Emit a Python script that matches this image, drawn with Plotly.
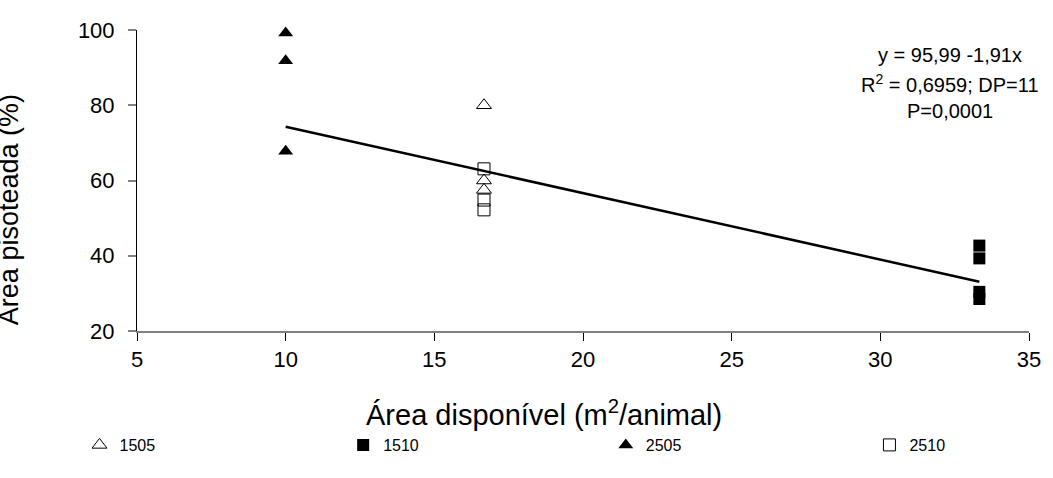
import plotly.graph_objects as go

# Data
x_1505 = [16.67, 16.67, 16.67]
y_1505 = [80.0, 60.0, 57.5]

x_1510 = [33.33, 33.33, 33.33, 33.33]
y_1510 = [42.7, 39.3, 30.4, 28.5]

x_2505 = [10.0, 10.0, 10.0]
y_2505 = [99.2, 91.8, 67.8]

x_2510 = [16.67, 16.67, 16.67]
y_2510 = [63.1, 54.8, 52.2]

trend_x = [10.0, 33.33]
trend_y = [74.3, 33.1]

eq_lines = ["y = 95,99 -1,91x", "R<sup>2</sup> = 0,6959; DP=11", "P=0,0001"]

FONT = "Liberation Sans, Arial, sans-serif"

PL, PR, PT, PB = 137, 16, 30, 147
PW = 1053 - PL - PR
PH = 478 - PT - PB


def px_x(p):
    return (p - PL) / PW


def px_y(p):
    return (478 - PB - p) / PH


fig = go.Figure()

fig.add_trace(go.Scatter(x=trend_x, y=trend_y, mode="lines",
                         line=dict(color="black", width=2.5),
                         showlegend=False, hoverinfo="skip"))

series = [
    ("1505", x_1505, y_1505, dict(symbol="triangle-up-open", size=13, color="black",
                                  line=dict(width=1, color="black")), "legend", 101),
    ("1510", x_1510, y_1510, dict(symbol="square", size=12, color="black"), "legend2", 367),
    ("2505", x_2505, y_2505, dict(symbol="triangle-up", size=13, color="black"), "legend3", 632),
    ("2510", x_2510, y_2510, dict(symbol="square-open", size=12, color="black",
                                  line=dict(width=1, color="black")), "legend4", 898),
]

legend_layout = {}
for name, xs, ys, mk, lg, mx in series:
    fig.add_trace(go.Scatter(x=xs, y=ys, mode="markers", name=name, marker=mk,
                             cliponaxis=False, legend=lg))
    legend_layout[lg] = dict(x=px_x(mx - 22), y=px_y(445), xanchor="left", yanchor="middle",
                             orientation="h", itemwidth=30,
                             font=dict(family=FONT, size=16, color="black"),
                             bgcolor="rgba(0,0,0,0)")

# equation text
eq_y_px = [55, 83, 111]
for txt, py in zip(eq_lines, eq_y_px):
    fig.add_annotation(xref="paper", yref="paper", x=px_x(957), y=px_y(py),
                       xanchor="center", yanchor="middle", showarrow=False,
                       text=txt, font=dict(family=FONT, size=20, color="black"))

# axis titles
fig.add_annotation(xref="paper", yref="paper", x=px_x(548), y=px_y(413),
                   xanchor="center", yanchor="middle", showarrow=False,
                   text="Área disponível (m<sup>2</sup>/animal)",
                   font=dict(family=FONT, size=29, color="black"))
fig.add_annotation(xref="paper", yref="paper", x=px_x(8), y=px_y(210),
                   xanchor="center", yanchor="middle", showarrow=False, textangle=-90,
                   text="Área pisoteada (%)",
                   font=dict(family=FONT, size=27, color="black"))

fig.update_layout(
    width=1053, height=478,
    margin=dict(l=PL, r=PR, t=PT, b=PB),
    paper_bgcolor="white", plot_bgcolor="white",
    font=dict(family=FONT, color="black"),
    showlegend=True,
    xaxis=dict(range=[5, 35], tick0=5, dtick=5, showgrid=False, zeroline=False,
               showline=True, linecolor="#808080", linewidth=1.5,
               ticks="outside", ticklen=8, tickcolor="black", tickwidth=1,
               tickfont=dict(family=FONT, size=22, color="black")),
    yaxis=dict(range=[20, 100], tick0=20, dtick=20, showgrid=False, zeroline=False,
               showline=True, linecolor="black", linewidth=1,
               ticks="outside", ticklen=8, tickcolor="#808080", tickwidth=1.5,
               ticklabelstandoff=9,
               tickfont=dict(family=FONT, size=22, color="black")),
    **legend_layout,
)

fig.write_html("out.html")
